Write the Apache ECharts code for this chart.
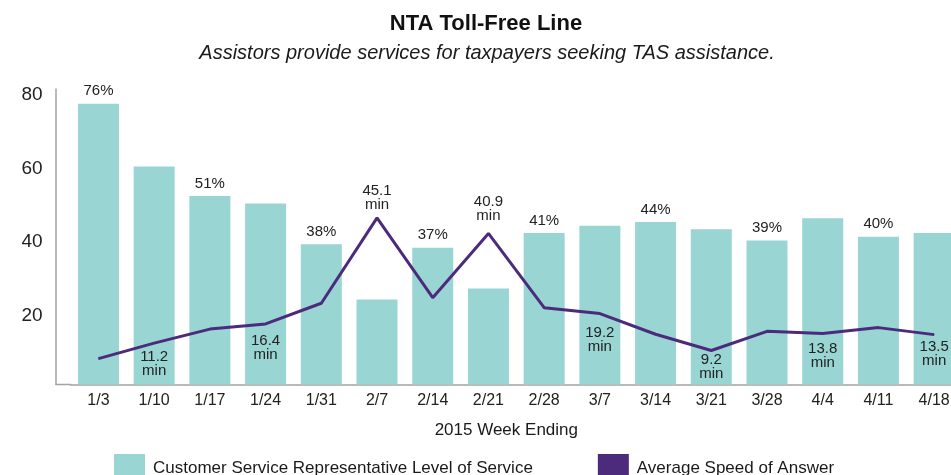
<!DOCTYPE html>
<html>
<head>
<meta charset="utf-8">
<script src="https://cdn.jsdelivr.net/npm/echarts@6/dist/echarts.min.js"></script>
<style>
  body { margin: 0; overflow: hidden; background: #fff; }
  #chart { width: 962px; height: 475px; }
</style>
</head>
<body>
<div id="chart"></div>
<script>
var weeks = ['1/3', '1/10', '1/17', '1/24', '1/31', '2/7', '2/14', '2/21',
             '2/28', '3/7', '3/14', '3/21', '3/28', '4/4', '4/11', '4/18'];
// Customer Service Representative Level of Service (%)
var levelOfService = [76, 59, 51, 49, 38, 23, 37, 26, 41, 43, 44, 42, 39, 45, 40, 41];
// Average Speed of Answer (minutes)
var speedOfAnswer = [7, 11.2, 15, 16.4, 22, 45.1, 23.5, 40.9, 20.8, 19.2, 13.6, 9.2, 14.4, 13.8, 15.4, 13.5];
var yTicks = [0, 20, 40, 60, 80];

var labeledBars = [0, 2, 4, 6, 8, 10, 12, 14];
var labeledPoints = [1, 3, 5, 7, 9, 11, 13, 15];
var pointsAbove = [5, 7];

var TEAL = '#98d5d3';
var PURPLE = '#4c2a7c';
var FONT = "'Liberation Sans', Arial, sans-serif";
var AXIS_GRAY = '#a3a3a3';

// label gaps below/above the line points
var pointGap = {1: 6, 3: 9, 5: 6, 7: 10, 9: 12, 11: 2, 13: 8, 15: 5};

var barData = levelOfService.map(function (v, i) {
  return {
    value: v,
    label: { show: labeledBars.indexOf(i) >= 0 }
  };
});

var lineData = speedOfAnswer.map(function (v, i) {
  var show = labeledPoints.indexOf(i) >= 0;
  return {
    value: v,
    label: {
      show: show,
      position: pointsAbove.indexOf(i) >= 0 ? 'top' : 'bottom',
      distance: pointGap[i] || 5
    }
  };
});

var chart = echarts.init(document.getElementById('chart'));
chart.setOption({
  animation: false,
  textStyle: { fontFamily: FONT },
  graphic: [
    {
      type: 'text', x: 486, y: 24,
      style: {
        text: 'NTA Toll-Free Line', textAlign: 'center', textVerticalAlign: 'middle',
        font: "bold 22px 'Liberation Sans', Arial, sans-serif", fill: '#111'
      }
    },
    {
      type: 'text', x: 487, y: 53,
      style: {
        text: 'Assistors provide services for taxpayers seeking TAS assistance.',
        textAlign: 'center', textVerticalAlign: 'middle',
        font: "italic 20px 'Liberation Sans', Arial, sans-serif", fill: '#1a1a1a'
      }
    },
    {
      type: 'line',
      shape: { x1: 55.6, y1: 384.5, x2: 71, y2: 384.5 },
      style: { stroke: AXIS_GRAY, lineWidth: 1.5 }
    }
  ],
  legend: {
    left: 114,
    top: 454,
    padding: 0,
    itemWidth: 31,
    itemHeight: 28,
    itemGap: 65,
    icon: 'rect',
    textStyle: { fontSize: 17, color: '#1a1a1a', fontFamily: FONT, padding: [0, 0, 6, 3] },
    data: ['Customer Service Representative Level of Service', 'Average Speed of Answer']
  },
  grid: { left: 70.6, right: 0, top: 89, bottom: 90.5 },
  xAxis: {
    type: 'category',
    data: weeks,
    name: '2015 Week Ending',
    nameLocation: 'middle',
    nameGap: 37,
    nameTextStyle: { fontSize: 17, color: '#1a1a1a', padding: [0, 20, 0, 0] },
    axisLine: { lineStyle: { color: AXIS_GRAY, width: 1.5 } },
    axisTick: { show: false },
    axisLabel: { fontSize: 16, color: '#222', margin: 8, interval: 0 }
  },
  yAxis: {
    type: 'value',
    min: yTicks[0],
    max: yTicks[yTicks.length - 1],
    interval: 20,
    offset: 15,
    splitLine: { show: false },
    axisTick: { show: false },
    axisLine: { show: true, lineStyle: { color: AXIS_GRAY, width: 1.5 } },
    axisLabel: {
      margin: 13,
      showMinLabel: false,
      formatter: '{v|{value}}',
      rich: { v: { fontSize: 19, color: '#222', padding: [11, 0, 0, 0] } }
    }
  },
  series: [
    {
      name: 'Customer Service Representative Level of Service',
      type: 'bar',
      barWidth: 41,
      itemStyle: { color: TEAL },
      label: { position: 'top', distance: 5, fontSize: 15, color: '#222', formatter: '{c}%' },
      data: barData
    },
    {
      name: 'Average Speed of Answer',
      type: 'line',
      symbol: 'circle',
      symbolSize: 1,
      itemStyle: { color: PURPLE },
      lineStyle: { color: PURPLE, width: 3 },
      label: { fontSize: 15, color: '#222', lineHeight: 14, formatter: '{c}\nmin' },
      z: 3,
      data: lineData
    }
  ]
});
</script>
</body>
</html>
